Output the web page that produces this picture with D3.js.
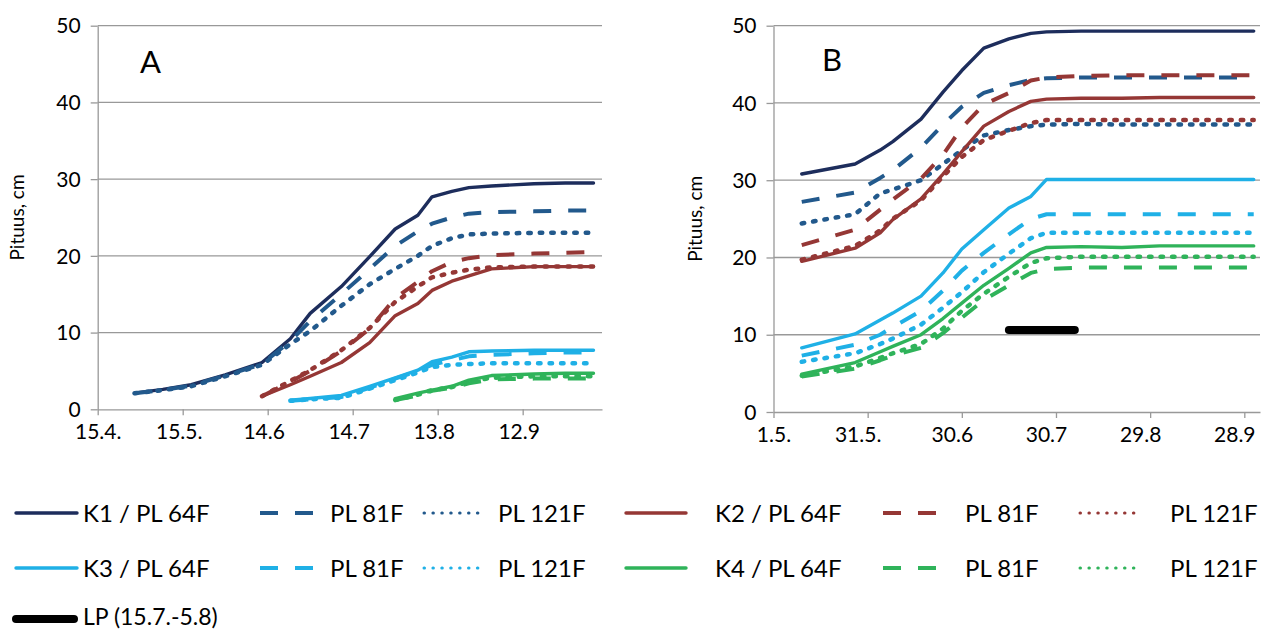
<!DOCTYPE html>
<html>
<head>
<meta charset="utf-8">
<script src="https://cdn.jsdelivr.net/npm/d3@7"></script>
<style>
  body { margin: 0; background: #fff; }
  text { font-family: Lato, "Open Sans", sans-serif; fill: #000; }
</style>
</head>
<body>
<div id="container"></div>
<script>
/* CONSTANTS AND GLOBALS */
const width = 1278, height = 632;
const parse = d3.timeParse("%Y-%m-%d");

/* DATA - panel A */
const datesA = ["2013-04-28","2013-05-08","2013-05-18","2013-05-30","2013-06-12","2013-06-22","2013-06-29",
  "2013-07-10","2013-07-20","2013-07-29","2013-08-06","2013-08-11","2013-08-18","2013-08-24","2013-09-01",
  "2013-09-16","2013-09-27","2013-10-07"];
const tickDatesA = ["2013-04-15","2013-05-15","2013-06-14","2013-07-14","2013-08-13","2013-09-12"];
const tickLabelsA = ["15.4.","15.5.","14.6","14.7","13.8","12.9"];

const k1_64A  = [2.1,2.6,3.2,4.5,6.1,9.2,12.5,16.0,19.9,23.5,25.3,27.7,28.4,28.9,29.1,29.4,29.5,29.5];
const k1_81A  = [2.1,2.5,3.1,4.4,5.9,8.9,11.5,15.0,18.3,21.3,23.2,24.2,25.0,25.5,25.7,25.8,25.9,25.9];
const k1_121A = [2.1,2.5,3.0,4.3,5.8,8.5,10.2,13.5,16.3,18.3,20.0,21.3,22.3,22.8,22.9,23.0,23.0,23.0];
const k2_64A  = [null,null,null,null,1.7,3.2,4.3,6.1,8.7,12.2,13.8,15.5,16.7,17.4,18.3,18.6,18.6,18.6];
const k2_81A  = [null,null,null,null,1.7,3.6,5.0,7.6,10.5,14.5,16.6,18.0,19.2,19.7,20.1,20.3,20.4,20.5];
const k2_121A = [null,null,null,null,1.7,3.7,5.1,7.7,10.6,14.0,16.0,17.2,17.8,18.2,18.5,18.6,18.6,18.6];
const k3_64A  = [null,null,null,null,null,1.2,1.4,1.8,3.0,4.1,5.1,6.2,6.8,7.5,7.6,7.7,7.7,7.7];
const k3_81A  = [null,null,null,null,null,1.1,1.3,1.6,2.8,4.0,5.0,5.8,6.4,6.9,7.1,7.3,7.4,7.4];
const k3_121A = [null,null,null,null,null,1.1,1.3,1.5,2.7,3.8,4.8,5.5,5.8,5.9,6.0,6.0,6.0,6.0];
const k4_64A  = [null,null,null,null,null,null,null,null,null,1.4,2.1,2.5,3.0,3.8,4.4,4.6,4.7,4.7];
const k4_81A  = [null,null,null,null,null,null,null,null,null,1.2,1.8,2.4,2.8,3.4,3.9,4.0,4.0,4.0];
const k4_121A = [null,null,null,null,null,null,null,null,null,1.2,1.9,2.5,2.9,3.6,4.1,4.3,4.3,4.3];

/* DATA - panel B */
const datesB = ["2013-05-10","2013-05-27","2013-06-04","2013-06-08","2013-06-17","2013-06-24","2013-06-30",
  "2013-07-07","2013-07-15","2013-07-22","2013-07-27","2013-08-07","2013-08-20","2013-09-01","2013-09-14","2013-10-01"];
const tickDatesB = ["2013-05-01","2013-05-31","2013-06-30","2013-07-30","2013-08-29","2013-09-28"];
const tickLabelsB = ["1.5.","31.5.","30.6","30.7","29.8","28.9"];

const k1_64B  = [30.8,32.1,33.9,35.0,37.9,41.4,44.2,47.1,48.3,49.0,49.2,49.3,49.3,49.3,49.3,49.3];
const k1_81B  = [27.2,28.4,30.3,31.3,34.2,37.2,39.5,41.3,42.3,43.0,43.2,43.3,43.3,43.3,43.3,43.3];
const k1_121B = [24.4,25.6,28.3,28.8,30.0,32.1,33.9,35.8,36.5,37.0,37.2,37.3,37.2,37.2,37.2,37.2];
const k2_64B  = [19.5,21.2,23.2,24.9,27.6,30.8,33.7,37.0,38.9,40.2,40.5,40.6,40.6,40.7,40.7,40.7];
const k2_81B  = [21.6,23.6,26.2,27.5,30.2,33.3,36.8,39.8,41.3,42.9,43.3,43.5,43.6,43.6,43.6,43.6];
const k2_121B = [19.7,21.5,23.5,25.0,27.4,30.5,33.0,35.2,36.4,37.4,37.8,37.8,37.8,37.8,37.8,37.8];
const k3_64B  = [8.3,10.1,11.9,12.8,15.0,18.0,21.1,23.6,26.4,27.9,30.1,30.1,30.1,30.1,30.1,30.1];
const k3_81B  = [7.3,8.7,10.0,11.0,13.1,15.7,18.3,20.6,23.0,25.0,25.6,25.6,25.6,25.6,25.6,25.6];
const k3_121B = [6.5,7.6,8.8,9.5,11.3,13.5,15.5,18.1,20.5,22.5,23.2,23.2,23.2,23.2,23.2,23.2];
const k4_64B  = [4.9,6.4,7.8,8.5,10.0,12.1,14.1,16.4,18.6,20.6,21.3,21.4,21.3,21.5,21.5,21.5];
const k4_81B  = [4.6,5.6,6.7,7.3,8.3,10.2,12.2,14.5,16.4,18.0,18.5,18.7,18.7,18.7,18.7,18.7];
const k4_121B = [4.7,5.9,7.0,7.6,8.8,10.8,13.1,15.3,17.5,19.3,19.9,20.1,20.1,20.1,20.1,20.1];

// LP period (15.7.-5.8)
const lpDates = ["2013-07-15","2013-08-05"];
const lpValue = 10.6;

const yTicks = [0,10,20,30,40,50];

/* STYLES */
const colors = { K1: "#1d2d5c", K1b: "#22598c", K2: "#953735", K3: "#1fb0e6", K4: "#2fb35a" };
const lineStyles = {
  "64F":  { dash: null,     width: 3.4, cap: "round" },
  "81F":  { dash: "18,17",  width: 4,   cap: "butt" },
  "121F": { dash: "2.5,9",  width: 4.5, cap: "round" }
};

function makeSeries(vals) {
  return [
    { type: "64F",  color: colors.K1,  values: vals[0] },
    { type: "81F",  color: colors.K1b, values: vals[1] },
    { type: "121F", color: colors.K1b, values: vals[2] },
    { type: "64F",  color: colors.K2,  values: vals[3] },
    { type: "81F",  color: colors.K2,  values: vals[4] },
    { type: "121F", color: colors.K2,  values: vals[5] },
    { type: "64F",  color: colors.K3,  values: vals[6] },
    { type: "81F",  color: colors.K3,  values: vals[7] },
    { type: "121F", color: colors.K3,  values: vals[8] },
    { type: "64F",  color: colors.K4,  values: vals[9] },
    { type: "81F",  color: colors.K4,  values: vals[10] },
    { type: "121F", color: colors.K4,  values: vals[11] }
  ];
}

const panels = [
  { label: "A", left: 97.7, right: 602, bottom: 409.3, top: 25.7,
    domain: ["2013-04-15","2013-10-10"], dates: datesA, ticks: tickDatesA, tickLabels: tickLabelsA,
    series: makeSeries([k1_64A,k1_81A,k1_121A,k2_64A,k2_81A,k2_121A,k3_64A,k3_81A,k3_121A,k4_64A,k4_81A,k4_121A]),
    titleX: 17, labelX: 140, labelY: 73, labelShift: -4 },
  { label: "B", left: 773.5, right: 1260, bottom: 412, top: 25.7,
    domain: ["2013-05-01","2013-10-03"], dates: datesB, ticks: tickDatesB, tickLabels: tickLabelsB,
    series: makeSeries([k1_64B,k1_81B,k1_121B,k2_64B,k2_81B,k2_121B,k3_64B,k3_81B,k3_121B,k4_64B,k4_81B,k4_121B]),
    titleX: 695, labelX: 822, labelY: 71, labelShift: -10, lp: true }
];

// CREATE SVG ELEMENT
const svg = d3.select("#container")
  .append("svg")
  .attr("width", width)
  .attr("height", height)
  .style("background-color", "#fff");

panels.forEach(p => {
  // SCALES
  const xScale = d3.scaleTime()
    .domain(p.domain.map(parse))
    .range([p.left, p.right]);
  const yScale = d3.scaleLinear()
    .domain([0, 50])
    .range([p.bottom, p.top]);

  const g = svg.append("g");

  // GRIDLINES
  g.selectAll("line.grid")
    .data(yTicks.filter(d => d > 0))
    .join("line")
    .attr("class", "grid")
    .attr("x1", p.left).attr("x2", p.right)
    .attr("y1", d => yScale(d)).attr("y2", d => yScale(d))
    .attr("stroke", "#999").attr("stroke-width", 1.3);

  // AXES
  const xAxis = g.append("g")
    .attr("transform", `translate(0, ${p.bottom})`)
    .call(d3.axisBottom(xScale)
      .tickValues(p.ticks.map(parse))
      .tickFormat((d, i) => p.tickLabels[i])
      .tickSize(6)
      .tickSizeOuter(0)
      .tickPadding(9));

  const yAxis = g.append("g")
    .attr("transform", `translate(${p.left}, 0)`)
    .call(d3.axisLeft(yScale)
      .tickValues(yTicks)
      .tickSize(7)
      .tickSizeOuter(0)
      .tickPadding(10));

  [xAxis, yAxis].forEach(a => {
    a.selectAll("path, line").attr("stroke", "#999").attr("stroke-width", 1.3);
    a.selectAll("text").style("font-size", "21px").attr("fill", "#000");
  });
  yAxis.selectAll("text").attr("dy", "0.34em");
  xAxis.selectAll("text").attr("dx", (d, i) => i === 0 ? 0 : p.labelShift);

  // Y TITLE
  g.append("text")
    .attr("transform", `translate(${p.titleX}, ${(p.top + p.bottom) / 2}) rotate(-90)`)
    .attr("text-anchor", "middle")
    .attr("dy", "0.35em")
    .style("font-size", "19px")
    .text("Pituus, cm");

  // PANEL LABEL
  g.append("text")
    .attr("x", p.labelX).attr("y", p.labelY)
    .style("font-size", "31px")
    .text(p.label);

  // LINES
  const dates = p.dates.map(parse);
  const line = d3.line()
    .defined(d => d.v != null)
    .x(d => xScale(d.date))
    .y(d => yScale(d.v));

  p.series.forEach(s => {
    const st = lineStyles[s.type];
    g.append("path")
      .datum(s.values.map((v, i) => ({ date: dates[i], v: v })))
      .attr("fill", "none")
      .attr("stroke", s.color)
      .attr("stroke-width", st.width)
      .attr("stroke-linecap", st.cap)
      .attr("stroke-linejoin", "round")
      .attr("stroke-dasharray", st.dash)
      .attr("d", line);
  });

  if (p.lp) {
    g.append("path")
      .datum(lpDates.map(d => ({ date: parse(d), v: lpValue })))
      .attr("fill", "none")
      .attr("stroke", "#000")
      .attr("stroke-width", 8)
      .attr("stroke-linecap", "round")
      .attr("d", line);
  }
});

/* LEGEND */
const legendLabels = ["K1 / PL 64F","PL 81F","PL 121F","K2 / PL 64F","PL 81F","PL 121F",
  "K3 / PL 64F","PL 81F","PL 121F","K4 / PL 64F","PL 81F","PL 121F"];
const legendCols = [
  { x0: 16, x1: 77, tx: 83 },
  { x0: 260, x1: 319, tx: 330 },
  { x0: 424, x1: 485, tx: 498 },
  { x0: 626, x1: 686, tx: 715 },
  { x0: 883, x1: 940, tx: 965 },
  { x0: 1080, x1: 1142, tx: 1170 }
];
const legendRows = [513, 568];
const legendSeries = panels[0].series;

const legend = svg.append("g");
legendSeries.forEach((s, i) => {
  const row = Math.floor(i / 6), col = legendCols[i % 6], y = legendRows[row];
  const st = lineStyles[s.type];
  legend.append("line")
    .attr("x1", col.x0).attr("x2", col.x1)
    .attr("y1", y).attr("y2", y)
    .attr("stroke", s.color)
    .attr("stroke-width", s.type === "121F" ? 3 : st.width)
    .attr("stroke-linecap", st.cap)
    .attr("stroke-dasharray", s.type === "121F" ? "0.5,8.4" : st.dash);
  legend.append("text")
    .attr("x", col.tx).attr("y", y)
    .attr("dy", "0.36em")
    .style("font-size", "24px")
    .text(legendLabels[i]);
});

legend.append("line")
  .attr("x1", 16).attr("x2", 74)
  .attr("y1", 619).attr("y2", 619)
  .attr("stroke", "#000").attr("stroke-width", 8).attr("stroke-linecap", "round");
legend.append("text")
  .attr("x", 83).attr("y", 617).attr("dy", "0.34em")
  .style("font-size", "23px")
  .text("LP (15.7.-5.8)");
</script>
</body>
</html>
